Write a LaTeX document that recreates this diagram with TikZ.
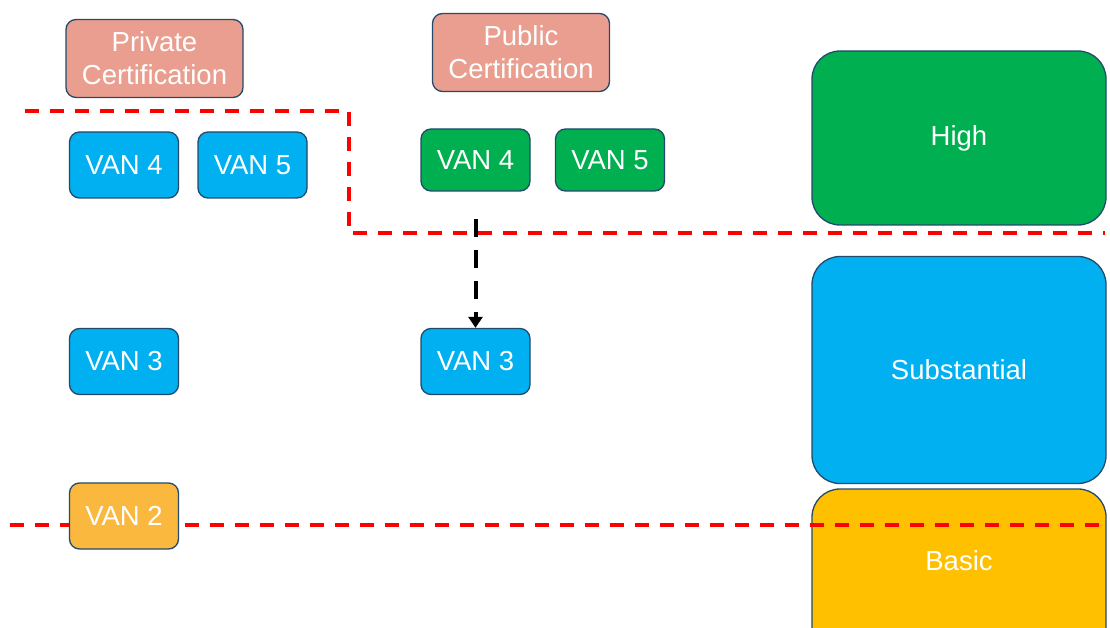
\documentclass[tikz,border=0pt]{standalone}
\usepackage{fontspec}
\setmainfont{Liberation Sans}
\usetikzlibrary{arrows.meta}
\definecolor{certpink}{HTML}{EA9E8F}
\definecolor{vanblue}{HTML}{00B0F0}
\definecolor{vangreen}{HTML}{00B050}
\definecolor{vanorange}{HTML}{FBB83F}
\definecolor{basicgold}{HTML}{FFC000}
\definecolor{edgeblue}{HTML}{23496B}
\definecolor{cutred}{HTML}{FF0000}
\tikzset{
  box/.style={draw=edgeblue, line width=1.3pt, text=white, align=center,
    font=\fontsize{27.5}{33}\selectfont, inner sep=0pt},
  smallbox/.style={box, rounded corners=10pt, minimum width=109pt, minimum height=66pt},
  certbox/.style={box, rounded corners=10pt, fill=certpink, minimum width=177pt, minimum height=78pt},
  levelbox/.style={box, rounded corners=28pt, minimum width=294pt},
  cutline/.style={draw=cutred, line width=4pt, dash pattern=on 14pt off 11pt},
  flowarrow/.style={draw=black, line width=4pt, dash pattern=on 18pt off 13pt,
    -{Triangle[length=11pt,width=14pt]}}
}
\begin{document}
\begin{tikzpicture}[x=1pt,y=-1pt]
\useasboundingbox (0,0) rectangle (1110,628);
\clip (0,0) rectangle (1110,628);

% assurance levels on the right
\node[levelbox, fill=vangreen, minimum height=174pt] (high) at (959,138) {High};
\node[levelbox, fill=vanblue, minimum height=227pt] (subst) at (959,370) {Substantial};
\node[levelbox, fill=basicgold, minimum height=170pt] (basic) at (959,574) {};
\node[text=white, font=\fontsize{27.5}{33}\selectfont] (basiclbl) at (959,561) {Basic};

% dashed boundaries between the levels
\draw[cutline] (25,111) -- (349,111) -- (349,233) -- (1105,233);
\draw[cutline] (10,525) -- (1110,525);

% certification headers
\node[certbox] (priv) at (154.5,58.5) {Private\\Certification};
\node[certbox] (pub) at (521,52.5) {Public\\Certification};

% private certification column
\node[smallbox, fill=vanblue] (v4priv) at (124,165) {VAN 4};
\node[smallbox, fill=vanblue] (v5priv) at (252.5,165) {VAN 5};
\node[smallbox, fill=vanblue] (v3priv) at (124,361.5) {VAN 3};
\node[smallbox, fill=vanorange] (v2priv) at (124,516) {VAN 2};

% public certification column
\node[smallbox, fill=vangreen, minimum height=62pt] (v4pub) at (475.5,160) {VAN 4};
\node[smallbox, fill=vangreen, minimum height=62pt] (v5pub) at (610,160) {VAN 5};
\node[smallbox, fill=vanblue] (v3pub) at (475.5,361.5) {VAN 3};

\coordinate (drop) at (475.5,219);
\draw[flowarrow] (drop) -- (v3pub.north);
\end{tikzpicture}
\end{document}
